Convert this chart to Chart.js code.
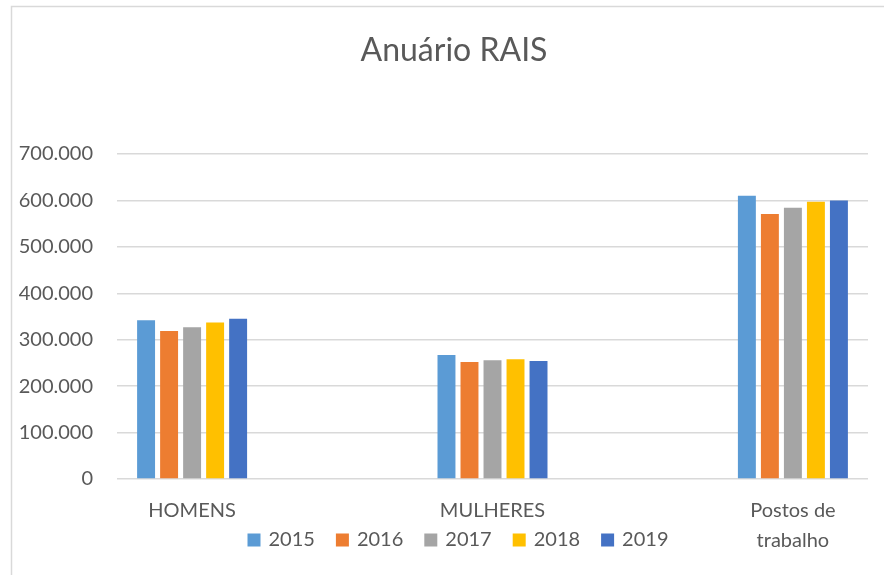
<!DOCTYPE html>
<html>
<head>
<meta charset="utf-8">
<script src="https://cdn.jsdelivr.net/npm/chart.js@4/dist/chart.umd.min.js"></script>
<style>
  html, body { margin: 0; padding: 0; background: #ffffff; }
  #wrap { width: 884px; height: 575px; position: relative; }
</style>
</head>
<body>
<div id="wrap"><canvas id="c" width="884" height="575"></canvas></div>
<script>
const chartTitle = 'Anuário RAIS';
const categories = ['HOMENS', 'MULHERES', ['Postos de', 'trabalho']];
const years = ['2015', '2016', '2017', '2018', '2019'];
const values2015 = [342000, 267000, 610000];
const values2016 = [319000, 252000, 571000];
const values2017 = [327000, 256000, 584000];
const values2018 = [337000, 258000, 597000];
const values2019 = [345000, 254000, 600000];
const yTicks = [0, 100000, 200000, 300000, 400000, 500000, 600000, 700000];
const colors = ['#5B9BD5', '#ED7D31', '#A5A5A5', '#FFC000', '#4472C4'];
const seriesValues = [values2015, values2016, values2017, values2018, values2019];

const TEXT = '#595959';
const FONT = 'Lato, "Open Sans", sans-serif';

const datasets = years.map((y, i) => ({
  label: y,
  data: seriesValues[i].map((v, k) => ({ x: k, y: v })),
  backgroundColor: colors[i],
  borderWidth: 0,
  categoryPercentage: 0.383,
  barPercentage: 0.78
}));

const frame = {
  id: 'frame',
  beforeDraw(chart) {
    const ctx = chart.ctx;
    ctx.save();
    ctx.fillStyle = '#ffffff';
    ctx.fillRect(0, 0, chart.width, chart.height);
    ctx.strokeStyle = '#d9d9d9';
    ctx.lineWidth = 1.5;
    ctx.beginPath();
    ctx.moveTo(11.5, chart.height + 5);
    ctx.lineTo(11.5, 6.5);
    ctx.lineTo(chart.width + 5, 6.5);
    ctx.stroke();
    ctx.restore();
  }
};

const titleAndLegend = {
  id: 'titleAndLegend',
  afterDraw(chart) {
    const ctx = chart.ctx;
    ctx.save();
    // title
    ctx.font = '32px ' + FONT;
    ctx.fillStyle = TEXT;
    ctx.textAlign = 'center';
    ctx.textBaseline = 'middle';
    ctx.fillText(chartTitle, 454, 51);
    // legend
    ctx.font = '20px ' + FONT;
    ctx.textAlign = 'left';
    const box = 13, gapIn = 8, gapOut = 21;
    const items = chart.data.datasets.map(d => ({ label: d.label, color: d.backgroundColor, w: ctx.measureText(d.label).width }));
    let total = 0;
    items.forEach((it, i) => { total += box + gapIn + it.w + (i < items.length - 1 ? gapOut : 0); });
    let x = 458 - total / 2;
    const yc = 540;
    items.forEach(it => {
      ctx.fillStyle = it.color;
      ctx.fillRect(x, yc - box / 2, box, box);
      x += box + gapIn;
      ctx.fillStyle = TEXT;
      ctx.fillText(it.label, x, yc);
      x += it.w + gapOut;
    });
    ctx.restore();
  }
};

new Chart(document.getElementById('c'), {
  type: 'bar',
  data: { datasets },
  plugins: [frame, titleAndLegend],
  options: {
    responsive: false,
    animation: false,
    layout: { padding: { left: 0, right: 16, top: 154, bottom: 0 } },
    plugins: {
      legend: { display: false },
      tooltip: { enabled: false },
      title: { display: false }
    },
    scales: {
      x: {
        type: 'linear',
        min: -0.25,
        max: 2.25,
        offset: false,
        grid: { display: false },
        border: { display: false },
        afterBuildTicks(scale) {
          scale.ticks = categories.map((c, i) => ({ value: i }));
        },
        afterFit(scale) { scale.height = 96; },
        ticks: {
          color: TEXT,
          padding: 9,
          maxRotation: 0,
          autoSkip: false,
          font: { family: FONT, size: 20, lineHeight: 1.5 },
          callback: (v) => categories[v]
        }
      },
      y: {
        min: 0,
        max: 700000,
        afterBuildTicks(scale) {
          scale.ticks = yTicks.map(v => ({ value: v }));
        },
        afterFit(scale) { scale.width = 117; },
        grid: { color: '#d9d9d9', lineWidth: 1.5, drawTicks: false },
        border: { display: false },
        ticks: {
          color: TEXT,
          padding: 24,
          font: { family: FONT, size: 20 },
          callback: (v) => v.toLocaleString('pt-BR')
        }
      }
    }
  }
});
</script>
</body>
</html>
